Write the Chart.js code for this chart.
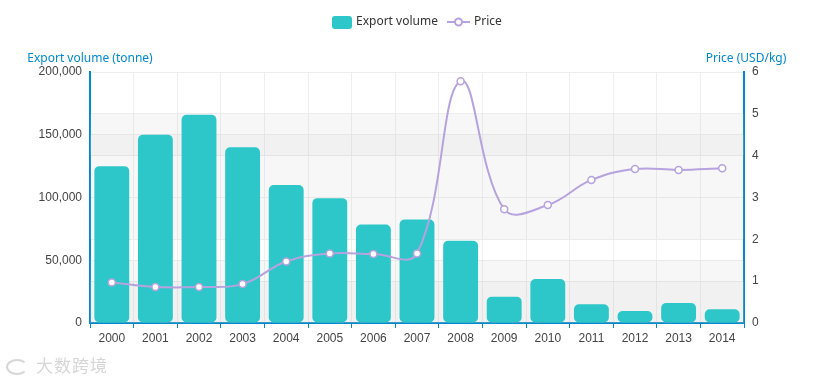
<!DOCTYPE html>
<html>
<head>
<meta charset="utf-8">
<script src="https://cdn.jsdelivr.net/npm/chart.js@4.4.1/dist/chart.umd.min.js"></script>
<style>
  html, body { margin: 0; padding: 0; background: #fff; }
  #wrap { position: relative; width: 816px; height: 381px; }
  #mark { position: absolute; left: 6px; top: 352px; color: #d6d6d6; font: 17px "Noto Sans CJK SC", sans-serif; letter-spacing: 1px; }
  #mark span { display: inline-block; width: 22px; height: 16px; border: 2px solid #d6d6d6; border-radius: 50%; border-right-color: transparent; margin-right: 8px; vertical-align: -3px; box-sizing: border-box; }
</style>
</head>
<body>
<div id="wrap">
  <canvas id="chartBox" width="816" height="381"></canvas>
  <div id="mark"><span></span>大数跨境</div>
</div>
<script>
const years = ['2000', '2001', '2002', '2003', '2004', '2005', '2006', '2007', '2008', '2009', '2010', '2011', '2012', '2013', '2014']
const exportVolume = [125000, 150000, 166000, 140000, 110000, 99500, 78500, 82500, 65500, 21000, 35000, 15000, 9500, 16000, 11000]
const price = [0.97, 0.86, 0.86, 0.93, 1.47, 1.66, 1.65, 1.66, 5.78, 2.72, 2.82, 3.42, 3.68, 3.66, 3.70]
const volumeTicks = [0, 50000, 100000, 150000, 200000]
const priceTicks = [0, 1, 2, 3, 4, 5, 6]

const blue = '#008acd'
const teal = '#2ec7c9'
const purple = '#b6a2de'
const bandColor = 'rgba(200,200,200,0.14)'

// alternating shaded bands for both value axes
const bands = {
    id: 'bands',
    beforeDatasetsDraw(chart) {
        const { ctx, chartArea } = chart
        const paint = (scale, ticks) => {
            for (let i = 0; i < ticks.length - 1; i += 2) {
                const a = scale.getPixelForValue(ticks[i])
                const b = scale.getPixelForValue(ticks[i + 1])
                ctx.fillStyle = bandColor
                ctx.fillRect(chartArea.left, b, chartArea.right - chartArea.left, a - b)
            }
        }
        ctx.save()
        paint(chart.scales.y, volumeTicks)
        paint(chart.scales.y1, priceTicks)
        ctx.restore()
    }
}

// axis names and legend
const extras = {
    id: 'extras',
    afterDraw(chart) {
        const { ctx, chartArea } = chart
        ctx.save()
        ctx.font = '12px "Noto Sans", sans-serif'
        ctx.fillStyle = blue
        ctx.textAlign = 'center'
        ctx.textBaseline = 'middle'
        ctx.fillText('Export volume (tonne)', chartArea.left, 59)
        ctx.fillText('Price (USD/kg)', chartArea.right + 2, 59)

        // legend
        ctx.fillStyle = teal
        ctx.beginPath()
        ctx.roundRect(332, 16, 20, 13, 3)
        ctx.fill()
        ctx.fillStyle = '#333'
        ctx.textAlign = 'left'
        ctx.fillText('Export volume', 356, 22)
        ctx.strokeStyle = purple
        ctx.lineWidth = 2
        ctx.beginPath()
        ctx.moveTo(447, 22)
        ctx.lineTo(470, 22)
        ctx.stroke()
        ctx.fillStyle = '#fff'
        ctx.beginPath()
        ctx.arc(458.5, 22, 3.5, 0, Math.PI * 2)
        ctx.fill()
        ctx.stroke()
        ctx.fillStyle = '#333'
        ctx.fillText('Price', 474, 22)
        ctx.restore()
    }
}

const context = document.querySelector('#chartBox').getContext('2d')
const chart = new Chart(context, {
    type: 'bar',
    data: {
        labels: years,
        datasets: [{
            type: 'line',
            label: 'Price',
            data: price,
            yAxisID: 'y1',
            borderColor: purple,
            borderWidth: 2,
            tension: 0.4,
            pointRadius: 3.5,
            pointBackgroundColor: '#fff',
            pointBorderColor: purple,
            pointBorderWidth: 1.5,
            order: 0
        }, {
            label: 'Export volume',
            data: exportVolume,
            yAxisID: 'y',
            backgroundColor: teal,
            borderRadius: 5,
            borderSkipped: false,
            barPercentage: 0.8,
            categoryPercentage: 1,
            order: 1
        }]
    },
    options: {
        responsive: false,
        animation: false,
        layout: { padding: { top: 72, right: 0, left: 0, bottom: 0 } },
        plugins: {
            legend: { display: false },
            tooltip: { enabled: false }
        },
        scales: {
            x: {
                afterFit(scale) { scale.height = 58 },
                grid: { offset: true, color: '#eee', tickColor: blue, tickLength: 5 },
                border: { color: blue, width: 2 },
                ticks: { color: '#444', padding: 3, font: { family: '"Liberation Sans Narrow", "Liberation Sans", sans-serif', size: 12 } }
            },
            y: {
                position: 'left',
                min: 0,
                max: 200000,
                afterFit(scale) { scale.width = 90 },
                afterBuildTicks(scale) { scale.ticks = volumeTicks.map(v => ({ value: v })) },
                grid: { color: '#eee', drawTicks: false },
                border: { color: blue, width: 2 },
                ticks: {
                    color: '#444',
                    padding: 8,
                    font: { family: '"Liberation Sans", Arial, sans-serif', size: 12 },
                    callback: v => v.toLocaleString('en-US')
                }
            },
            y1: {
                position: 'right',
                min: 0,
                max: 6,
                afterFit(scale) { scale.width = 72 },
                afterBuildTicks(scale) { scale.ticks = priceTicks.map(v => ({ value: v })) },
                grid: { color: '#eee', drawTicks: false },
                border: { color: blue, width: 2 },
                ticks: {
                    color: '#444',
                    padding: 8,
                    font: { family: '"Liberation Sans", Arial, sans-serif', size: 12 }
                }
            }
        }
    },
    plugins: [bands, extras]
})
</script>
</body>
</html>
